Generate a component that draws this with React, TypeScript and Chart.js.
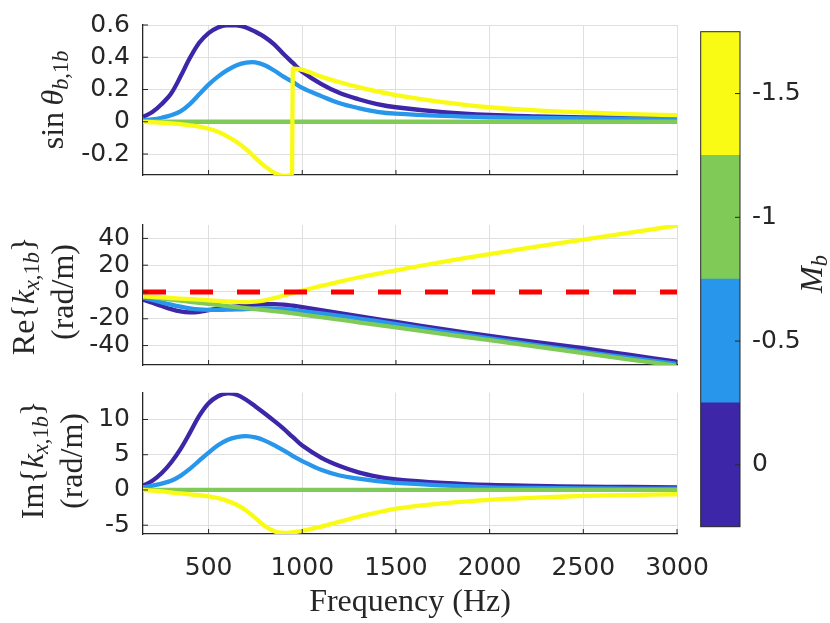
import React, { useEffect, useRef } from 'react';
import { Chart, registerables } from 'chart.js';

Chart.register(...registerables);

// frequency grid (Hz), shared by every curve
const freq = [150, 200, 250, 300, 350, 400, 450, 500, 550, 600, 650, 700, 750, 800, 850, 900, 945, 950, 1000, 1100,
    1200, 1300, 1400, 1500, 1750, 2000, 2250, 2500, 2750, 3000];

const mbValues = [0, -0.5, -1, -1.5];
const mbColors = ['#3E26A8', '#2896EA', '#80CB58', '#F9FB15'];
const mbTickLabels = ['0', '-0.5', '-1', '-1.5'];

// sin(theta_b,1b)
const sinM0 = [0.03, 0.06, 0.11, 0.175, 0.28, 0.395, 0.49, 0.55, 0.585, 0.6, 0.598, 0.585, 0.558, 0.525, 0.48, 0.42, 0.37, 0.365, 0.31, 0.235,
    0.178, 0.14, 0.11, 0.09, 0.06, 0.042, 0.033, 0.027, 0.024, 0.021];
const sinM05 = [0.01, 0.015, 0.025, 0.04, 0.065, 0.11, 0.17, 0.23, 0.28, 0.32, 0.35, 0.366, 0.368, 0.35, 0.318, 0.28, 0.25, 0.247, 0.21, 0.16,
    0.115, 0.085, 0.062, 0.05, 0.036, 0.028, 0.024, 0.021, 0.019, 0.017];
const sinM1 = [0, 0, 0, 0, 0, 0, 0, 0, 0, 0, 0, 0, 0, 0, 0, 0, 0, 0, 0, 0, 0, 0, 0, 0, 0, 0, 0, 0, 0, 0];
const sinM15 = [0, -0.003, -0.006, -0.01, -0.015, -0.022, -0.03, -0.043, -0.062, -0.09, -0.125, -0.17, -0.225, -0.275, -0.315, -0.335, -0.33, 0.33, 0.322, 0.28,
    0.245, 0.215, 0.188, 0.165, 0.122, 0.09, 0.071, 0.058, 0.048, 0.041];

// Re{k_x,1b} (rad/m)
const reM0 = [-5.7, -8, -10.5, -12.8, -14.5, -15.2, -14.8, -13.6, -12.5, -11.6, -10.8, -10.1, -9.5, -9.1, -9.1, -9.5, -10.1, -10.2, -11.3, -13.6,
    -15.8, -18, -20.2, -22.4, -27.8, -32.8, -37.4, -42, -47, -52];
const reM05 = [-4.2, -6, -7.8, -9.5, -11, -12.2, -13, -13.3, -13.3, -13.2, -13, -12.8, -12.5, -12.3, -12.4, -12.8, -13.3, -13.4, -14.3, -16,
    -17.8, -19.8, -21.8, -24, -29.5, -34.6, -39.6, -44.6, -49.2, -53.7];
const reM1 = [-3.2, -4, -4.8, -5.7, -6.5, -7.3, -8.1, -8.9, -9.7, -10.5, -11.2, -12, -12.8, -13.5, -14.3, -15.1, -15.8, -15.9, -16.9, -18.8,
    -20.7, -22.6, -24.5, -26.4, -31.2, -36, -40.8, -45.6, -50.4, -55.2];
const reM15 = [-3.2, -3.6, -4, -4.5, -4.9, -5.3, -5.7, -6.2, -6.7, -7.1, -7.4, -7.5, -7.2, -6.2, -4.6, -2.6, -1, -0.8, 1, 4.5,
    7.8, 10.8, 13.6, 16.2, 22.5, 28.3, 33.8, 39, 44.3, 49.6];

// Im{k_x,1b} (rad/m)
const imM0 = [0.6, 1.3, 2.4, 3.9, 5.8, 8.1, 10.5, 12.3, 13.3, 13.7, 13.5, 12.8, 11.85, 10.85, 9.8, 8.7, 7.6, 7.5, 6.3, 4.6,
    3.4, 2.5, 1.9, 1.5, 1, 0.7, 0.57, 0.47, 0.42, 0.38];
const imM05 = [0.38, 0.6, 0.9, 1.3, 2, 3, 4.15, 5.3, 6.35, 7.1, 7.5, 7.65, 7.45, 7, 6.35, 5.6, 4.9, 4.8, 4.1, 2.85,
    2.05, 1.6, 1.25, 1, 0.65, 0.38, 0.29, 0.23, 0.2, 0.19];
const imM1 = [0, 0, 0, 0, 0, 0, 0, 0, 0, 0, 0, 0, 0, 0, 0, 0, 0, 0, 0, 0, 0, 0, 0, 0, 0, 0, 0, 0, 0, 0];
const imM15 = [0, -0.1, -0.2, -0.35, -0.5, -0.62, -0.75, -0.9, -1.15, -1.55, -2.1, -2.9, -4, -5.1, -5.85, -6.1, -6.02, -6, -5.8, -5.2,
    -4.5, -3.8, -3.2, -2.65, -1.9, -1.4, -1.1, -0.85, -0.72, -0.61];

const xTicks = [500, 1000, 1500, 2000, 2500, 3000];
const xTickLabels = ['500', '1000', '1500', '2000', '2500', '3000'];
const sinTicks = [-0.2, 0, 0.2, 0.4, 0.6];
const sinTickLabels = ['-0.2', '0', '0.2', '0.4', '0.6'];
const reTicks = [-40, -20, 0, 20, 40];
const reTickLabels = ['-40', '-20', '0', '20', '40'];
const imTicks = [-5, 0, 5, 10];
const imTickLabels = ['-5', '0', '5', '10'];

const AXIS = '#262626';
const GRID = '#dfdfdf';
const SANS = '"DejaVu Sans", sans-serif';
const SERIF = '"Liberation Serif", serif';
const LABEL_SIZE = 32;

type Seg = { t: string; it?: boolean; sub?: boolean };

// draws a small bit of "math" text, centred on (x, y) along its baseline
function drawRich(ctx: CanvasRenderingContext2D, segs: Seg[], x: number, y: number, rotated: boolean) {
    const font = (s: Seg) => `${s.it ? 'italic ' : ''}${s.sub ? LABEL_SIZE * 0.7 : LABEL_SIZE}px ${SERIF}`;
    ctx.save();
    ctx.translate(x, y);
    if (rotated) ctx.rotate(-Math.PI / 2);
    ctx.fillStyle = AXIS;
    ctx.textAlign = 'left';
    ctx.textBaseline = 'alphabetic';
    let total = 0;
    const widths = segs.map((s) => {
        ctx.font = font(s);
        const w = ctx.measureText(s.t).width;
        total += w;
        return w;
    });
    let cx = -total / 2;
    segs.forEach((s, i) => {
        ctx.font = font(s);
        ctx.fillText(s.t, cx, s.sub ? LABEL_SIZE * 0.17 : 0);
        cx += widths[i];
    });
    ctx.restore();
}

function decorPlugin(drawLabels: (ctx: CanvasRenderingContext2D) => void) {
    return {
        id: 'decor',
        afterDraw(chart: any) {
            const { ctx, chartArea: a, scales } = chart;
            ctx.save();
            ctx.strokeStyle = AXIS;
            ctx.lineWidth = 1;
            ctx.beginPath();
            scales.x.ticks.forEach((t: any) => {
                const px = scales.x.getPixelForValue(t.value);
                ctx.moveTo(px, a.bottom);
                ctx.lineTo(px, a.bottom - 5);
            });
            scales.y.ticks.forEach((t: any) => {
                const py = scales.y.getPixelForValue(t.value);
                ctx.moveTo(a.left, py);
                ctx.lineTo(a.left + 5, py);
            });
            ctx.stroke();
            ctx.restore();
            drawLabels(ctx);
        },
    };
}

// jumpy marks the series with a discontinuity, which keeps a monotone spline
function curves(series: number[][], jumpy: number = -1) {
    // the first dataset is drawn last by Chart.js, so list yellow first to keep it on top
    return [3, 2, 1, 0].map((i) => ({
        data: freq.map((f, k) => ({ x: f, y: series[i][k] })),
        borderColor: mbColors[i],
        borderWidth: 4.3,
        pointRadius: 0,
        fill: false,
        tension: 0.35,
        cubicInterpolationMode: i === jumpy ? 'monotone' : 'default',
    }));
}

function panelOptions(yMin: number, yMax: number, yTicks: number[], yLabels: string[], showX: boolean, padTop: number, padBottom: number): any {
    return {
        animation: false,
        responsive: true,
        maintainAspectRatio: false,
        layout: { padding: { left: 0, right: 43, top: padTop, bottom: padBottom } },
        plugins: { legend: { display: false }, tooltip: { enabled: false } },
        scales: {
            x: {
                type: 'linear',
                min: 150,
                max: 3000,
                afterBuildTicks: (s: any) => { s.ticks = xTicks.map((v) => ({ value: v })); },
                afterFit: (s: any) => { s.height = showX ? 89 : 0; s.paddingLeft = 0; s.paddingRight = 0; },
                grid: { color: GRID, drawTicks: false },
                border: { color: AXIS, width: 1.3 },
                ticks: {
                    display: showX,
                    padding: 19,
                    color: AXIS,
                    font: { family: SANS, size: 25 },
                    maxRotation: 0,
                    minRotation: 0,
                    autoSkip: false,
                    callback: (_v: any, i: number) => xTickLabels[i],
                },
            },
            y: {
                min: yMin,
                max: yMax,
                afterBuildTicks: (s: any) => { s.ticks = yTicks.map((v) => ({ value: v })); },
                afterFit: (s: any) => { s.width = 143; s.paddingTop = 0; s.paddingBottom = 0; },
                grid: { color: GRID, drawTicks: false },
                border: { color: AXIS, width: 1.3 },
                ticks: {
                    padding: 13,
                    color: AXIS,
                    font: { family: SANS, size: 25 },
                    autoSkip: false,
                    callback: (_v: any, i: number) => yLabels[i],
                },
            },
        },
    };
}

const App: React.FC = () => {
    const sinRef = useRef<HTMLCanvasElement>(null);
    const reRef = useRef<HTMLCanvasElement>(null);
    const imRef = useRef<HTMLCanvasElement>(null);
    const cbRef = useRef<HTMLCanvasElement>(null);

    useEffect(() => {
        const charts: Chart[] = [];

        if (sinRef.current) {
            charts.push(new Chart(sinRef.current, {
                type: 'line',
                data: { datasets: curves([sinM0, sinM05, sinM1, sinM15], 3) as any },
                options: panelOptions(-0.33, 0.6, sinTicks, sinTickLabels, false, 25, 5),
                plugins: [decorPlugin((ctx) => {
                    drawRich(ctx, [{ t: 'sin\u2009' }, { t: 'θ', it: true }, { t: 'b', it: true, sub: true }, { t: ',1', sub: true }, { t: 'b', it: true, sub: true }], 63, 100, true);
                })],
            }));
        }

        if (reRef.current) {
            const zeroLine = {
                data: [{ x: 150, y: 0 }, { x: 3000, y: 0 }],
                borderColor: '#FF0000',
                borderWidth: 5,
                borderDash: [23, 24],
                pointRadius: 0,
                fill: false,
            };
            charts.push(new Chart(reRef.current, {
                type: 'line',
                data: { datasets: [zeroLine, ...curves([reM0, reM05, reM1, reM15])] as any },
                options: panelOptions(-54.5, 50, reTicks, reTickLabels, false, 25, 5),
                plugins: [decorPlugin((ctx) => {
                    drawRich(ctx, [{ t: 'Re{' }, { t: 'k', it: true }, { t: 'x', it: true, sub: true }, { t: ',1', sub: true }, { t: 'b', it: true, sub: true }, { t: '}' }], 34, 96, true);
                    drawRich(ctx, [{ t: '(rad/m)' }], 73, 92, true);
                })],
            }));
        }

        if (imRef.current) {
            charts.push(new Chart(imRef.current, {
                type: 'line',
                data: { datasets: curves([imM0, imM05, imM1, imM15]) as any },
                options: panelOptions(-6.25, 13.8, imTicks, imTickLabels, true, 12.7, 0),
                plugins: [decorPlugin((ctx) => {
                    drawRich(ctx, [{ t: 'Im{' }, { t: 'k', it: true }, { t: 'x', it: true, sub: true }, { t: ',1', sub: true }, { t: 'b', it: true, sub: true }, { t: '}' }], 43, 80, true);
                    drawRich(ctx, [{ t: '(rad/m)' }], 82, 81, true);
                    drawRich(ctx, [{ t: 'Frequency (Hz)' }], 410, 231, false);
                })],
            }));
        }

        if (cbRef.current) {
            const cbTicks = mbValues;
            charts.push(new Chart(cbRef.current, {
                type: 'bar',
                data: {
                    labels: ['Mb'],
                    datasets: mbValues.map((m, i) => ({
                        data: [[m - 0.25, m + 0.25]],
                        backgroundColor: mbColors[i],
                        borderWidth: 0,
                        grouped: false,
                        barPercentage: 1,
                        categoryPercentage: 1,
                    })) as any,
                },
                options: {
                    animation: false,
                    responsive: true,
                    maintainAspectRatio: false,
                    layout: { padding: { left: 10.7, right: 0, top: 31.7, bottom: 96.3 } },
                    plugins: { legend: { display: false }, tooltip: { enabled: false } },
                    scales: {
                        x: { display: false },
                        y: {
                            position: 'right',
                            reverse: true,
                            min: -1.75,
                            max: 0.25,
                            afterBuildTicks: (s: any) => { s.ticks = cbTicks.map((v) => ({ value: v })); },
                            afterFit: (s: any) => { s.width = 90; s.paddingTop = 0; s.paddingBottom = 0; },
                            grid: { display: false, drawTicks: false },
                            border: { display: false },
                            ticks: {
                                padding: 12,
                                color: AXIS,
                                font: { family: SANS, size: 25 },
                                autoSkip: false,
                                callback: (_v: any, i: number) => mbTickLabels[i],
                            },
                        },
                    },
                } as any,
                plugins: [{
                    id: 'cbDecor',
                    afterDraw(chart: any) {
                        const { ctx, chartArea: a, scales } = chart;
                        ctx.save();
                        ctx.strokeStyle = AXIS;
                        ctx.lineWidth = 1;
                        ctx.strokeRect(a.left, a.top, a.right - a.left, a.bottom - a.top);
                        ctx.beginPath();
                        scales.y.ticks.forEach((t: any) => {
                            const py = scales.y.getPixelForValue(t.value);
                            ctx.moveTo(a.right - 5, py);
                            ctx.lineTo(a.right, py);
                        });
                        ctx.stroke();
                        ctx.restore();
                        drawRich(ctx, [{ t: 'M', it: true }, { t: 'b', it: true, sub: true }], 132, 274, true);
                    },
                }],
            }));
        }

        return () => {
            charts.forEach((c) => c.destroy());
        };
    }, []);

    const box = (left: number, top: number, width: number, height: number): React.CSSProperties => ({
        position: 'absolute', left, top, width, height,
    });

    return (
        <div style={{ position: 'absolute', left: 0, top: 0, width: 830, height: 623, background: '#ffffff', overflow: 'hidden' }}>
            <div style={box(0, 0, 720, 180)}><canvas ref={sinRef} /></div>
            <div style={box(0, 200, 720, 170)}><canvas ref={reRef} /></div>
            <div style={box(0, 380, 720, 243)}><canvas ref={imRef} /></div>
            <div style={box(690, 0, 140, 623)}><canvas ref={cbRef} /></div>
        </div>
    );
};

export default App;
